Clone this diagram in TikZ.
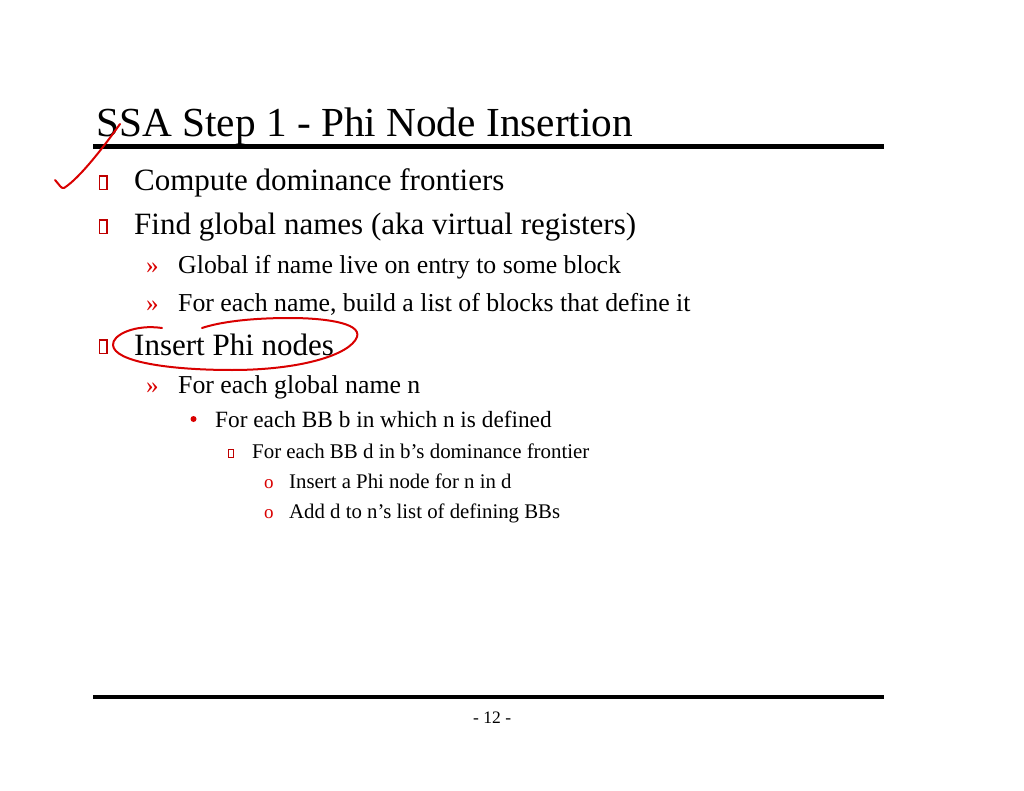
\documentclass[tikz,border=0pt]{standalone}
\usepackage{fontspec}
\setmainfont{Liberation Serif}
\begin{document}
\begin{tikzpicture}[x=1pt,y=-1pt,
  txt/.style={anchor=base west,inner sep=0pt,text=black},
  lone/.style={txt,font=\fontsize{31}{31}\selectfont},
  ltwo/.style={txt,font=\fontsize{25.8}{25.8}\selectfont},
  lthree/.style={txt,font=\fontsize{23.3}{23.3}\selectfont},
  lfour/.style={txt,font=\fontsize{20.9}{20.9}\selectfont},
  lfive/.style={txt,font=\fontsize{20.8}{20.8}\selectfont},
  boxbul/.style={draw=red!75!black,line width=1.1pt,inner sep=0pt,fill=none},
  redbul/.style={anchor=base west,inner sep=0pt,text=red!85!black},
  pen/.style={draw=red!85!black,line width=2pt,line cap=round,line join=round}]
\useasboundingbox (0,0) rectangle (1024,791);
% title and rules
\node[txt,font=\fontsize{41.3}{41.3}\selectfont] (title) at (96,137) {SSA Step 1 - Phi Node Insertion};
\draw[line width=5pt] (93,147) coordinate (r1a) -- (884,147) coordinate (r1b);
\draw[line width=4pt] (93,697) coordinate (r2a) -- (884,697) coordinate (r2b);
\node[txt,font=\fontsize{17.5}{17.5}\selectfont] (page) at (473,723) {- 12 -};
% level 1
\draw[boxbul] (99.5,176) rectangle (107,189.5);
\node[lone] (l1) at (134,191) {Compute dominance frontiers};
\draw[boxbul] (99.5,220) rectangle (107,233.5);
\node[lone] (l2) at (134,235) {Find global names (aka virtual registers)};
\node[redbul,font=\fontsize{25}{25}\selectfont] (b3) at (146,274) {»};
\node[ltwo] (l3) at (178,274) {Global if name live on entry to some block};
\node[redbul,font=\fontsize{25}{25}\selectfont] (b4) at (146,311) {»};
\node[ltwo] (l4) at (178,311) {For each name, build a list of blocks that define it};
\draw[boxbul] (99.5,340) rectangle (107,353.5);
\node[lone] (l5) at (134,355) {Insert Phi nodes};
\node[redbul,font=\fontsize{25}{25}\selectfont] (b6) at (146,393) {»};
\node[ltwo] (l6) at (178,393) {For each global name n};
\fill[red!85!black] (193.5,419) circle (3pt);
\node[lthree] (l7) at (215,427) {For each BB b in which n is defined};
\draw[boxbul,line width=1pt] (228,449) rectangle (233.5,457.5);
\node[lfour] (l8) at (252,458) {For each BB d in b’s dominance frontier};
\node[redbul,font=\fontsize{19}{19}\selectfont] (b9) at (264,488) {o};
\node[lfive] (l9) at (289,488) {Insert a Phi node for n in d};
\node[redbul,font=\fontsize{19}{19}\selectfont] (b10) at (264,518) {o};
\node[lfive] (l10) at (289,518) {Add d to n’s list of defining BBs};
% red pen annotations
\draw[pen] (55,180) .. controls (59,184) and (61,189) .. (64,188)
  .. controls (80,178) and (105,145) .. (120,124);
\draw[pen] (162,328) .. controls (135,324) and (112,335) .. (113,345)
  .. controls (114,362) and (170,370) .. (232,370)
  .. controls (300,370) and (350,355) .. (357,337)
  .. controls (362,322) and (320,318) .. (290,318)
  .. controls (250,318) and (220,322) .. (202,328);
\end{tikzpicture}
\end{document}
